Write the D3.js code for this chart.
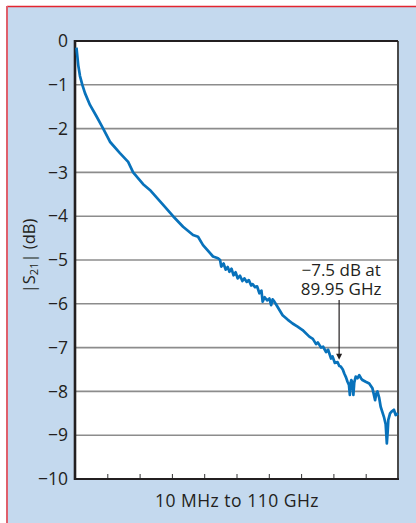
<!DOCTYPE html>
<html>
<head>
<meta charset="utf-8">
<script src="https://cdn.jsdelivr.net/npm/d3@7"></script>
<style>
  body { margin: 0; background: #fff; }
  text { font-family: "Open Sans", "Noto Sans", sans-serif; fill: #231f20; }
</style>
</head>
<body>
<div id="chart"></div>
<script>
// frequency (GHz) and |S21| (dB)
const freqGHz = [0.5, 0.8, 1.1, 1.7, 2.5, 3.4, 5.1, 7.4, 9.6, 11.9, 15.3, 18.1, 19.8, 23.2, 25.5,
  29.5, 33.4, 36.8, 40.2, 41.9, 43.6, 47.0, 48.7, 49.4, 49.8, 50.6, 51.3, 52.0, 52.6, 53.3, 54.0,
  54.7, 55.4, 56.2, 57.0, 57.7, 58.5, 59.2, 60.0, 60.5, 61.3, 62.0, 62.8, 63.5, 63.9, 64.6,
  65.4, 66.2, 66.8, 67.3, 67.9, 68.8, 70.7, 72.4, 74.1, 75.8, 77.5, 79.8, 81.0, 82.1, 82.7,
  83.8, 84.5, 85.5, 86.2, 87.2, 87.7, 88.5, 89.4, 90.0, 90.5, 91.2, 91.7, 92.3, 92.8, 93.3,
  93.6, 93.9, 94.1, 94.5, 94.8, 95.1, 95.6, 96.2, 96.8, 97.4, 97.9, 99.0, 100.2, 101.3,
  102.2, 102.6, 103.0, 103.6, 104.1, 105.2, 105.8, 106.2, 106.5, 106.7, 107.3, 107.8, 108.6,
  109.2, 110];
const s21dB = [-0.15, -0.35, -0.55, -0.8, -1.0, -1.19, -1.46, -1.73, -2.0, -2.3, -2.56, -2.76,
  -3.0, -3.27, -3.4, -3.7, -4.0, -4.24, -4.43, -4.47, -4.66, -4.92, -4.96, -5.0, -5.15, -5.08,
  -5.22, -5.16, -5.27, -5.2, -5.35, -5.28, -5.42, -5.36, -5.48, -5.42, -5.5, -5.46, -5.58,
  -5.55, -5.62, -5.6, -5.76, -5.7, -5.95, -5.85, -5.92, -5.88, -6.03, -5.9, -5.95, -6.05,
  -6.26, -6.36, -6.45, -6.52, -6.6, -6.75, -6.8, -6.92, -6.88, -7.0, -6.98, -7.1, -7.05,
  -7.25, -7.2, -7.35, -7.33, -7.42, -7.43, -7.5, -7.59, -7.68, -7.78, -7.85, -8.08, -7.8,
  -7.74, -7.8, -8.08, -7.8, -7.66, -7.7, -7.63, -7.7, -7.74, -7.78, -7.82, -7.93, -8.2,
  -8.05, -8.0, -8.15, -8.35, -8.58, -8.75, -9.19, -8.9, -8.65, -8.5, -8.46, -8.42, -8.54, -8.5];
const yTicks = [0, -1, -2, -3, -4, -5, -6, -7, -8, -9, -10];
const xTicks = [11, 22, 33, 44, 55, 66, 77, 88, 99];

const W = 416, H = 523;
const plot = { left: 75, top: 41, right: 398, bottom: 479 };

const svg = d3.select('#chart')
  .append('svg')
  .attr('width', W)
  .attr('height', H);

// panel background and red frame lines
svg.append('rect')
  .attr('x', 7).attr('y', 6)
  .attr('width', W - 7).attr('height', H - 6)
  .style('fill', '#c4d9ee');
svg.append('line')
  .attr('x1', 7).attr('x2', W).attr('y1', 6.5).attr('y2', 6.5)
  .style('stroke', '#e3242f').style('stroke-width', 1.5);
svg.append('line')
  .attr('x1', 7).attr('x2', 7).attr('y1', 6).attr('y2', H)
  .style('stroke', '#df5f6b').style('stroke-width', 2);

const x = d3.scaleLinear()
  .domain([0, 110])
  .range([plot.left, plot.right]);

const y = d3.scaleLinear()
  .domain([-10, 0])
  .range([plot.bottom, plot.top]);

// plot area
svg.append('rect')
  .attr('x', plot.left).attr('y', plot.top)
  .attr('width', plot.right - plot.left).attr('height', plot.bottom - plot.top)
  .style('fill', '#fff');

// gridlines
svg.append('g')
  .selectAll('line')
  .data(yTicks.filter(d => d !== 0 && d !== -10))
  .enter()
  .append('line')
  .attr('x1', plot.left).attr('x2', plot.right)
  .attr('y1', d => y(d)).attr('y2', d => y(d))
  .style('stroke', '#8c8c8c')
  .style('stroke-width', 1.6);

// x ticks (inside, upward)
svg.append('g')
  .attr('transform', `translate(0, ${plot.bottom})`)
  .call(d3.axisBottom(x).tickValues(xTicks).tickSize(-5).tickFormat(''))
  .call(g => g.select('.domain').remove())
  .selectAll('.tick line')
  .style('stroke', '#333')
  .style('stroke-width', 1);

// y axis labels
svg.append('g')
  .attr('transform', `translate(${plot.left}, 0)`)
  .call(d3.axisLeft(y).tickValues(yTicks).tickSize(0).tickPadding(7)
    .tickFormat(d => d === 0 ? '0' : '\u2212' + Math.abs(d)))
  .call(g => g.select('.domain').remove())
  .selectAll('.tick text')
  .style('font-size', '17.5px')
  .style('fill', '#231f20')
  .style('font-family', '"Open Sans", sans-serif');

// frame
svg.append('line')
  .attr('x1', plot.right).attr('x2', plot.right)
  .attr('y1', plot.top).attr('y2', plot.bottom)
  .style('stroke', '#4a4a4a').style('stroke-width', 2);
svg.append('line')
  .attr('x1', plot.left).attr('x2', plot.right)
  .attr('y1', plot.top).attr('y2', plot.top)
  .style('stroke', '#231f20').style('stroke-width', 2);
svg.append('line')
  .attr('x1', plot.left).attr('x2', plot.right + 1)
  .attr('y1', plot.bottom).attr('y2', plot.bottom)
  .style('stroke', '#231f20').style('stroke-width', 2.2);
svg.append('line')
  .attr('x1', plot.left).attr('x2', plot.left)
  .attr('y1', plot.top - 1).attr('y2', plot.bottom + 1)
  .style('stroke', '#231f20').style('stroke-width', 2.6);

// trace
const pts = freqGHz.map((f, i) => [f, s21dB[i]]);
svg.append('path')
  .datum(pts)
  .attr('d', d3.line().x(d => x(d[0])).y(d => y(d[1])))
  .style('fill', 'none')
  .style('stroke', '#0872bb')
  .style('stroke-width', 2.7)
  .style('stroke-linejoin', 'round');

// annotation
const annX = x(89.95) + 2;
const ann = svg.append('text')
  .attr('text-anchor', 'middle')
  .style('font-size', '17px');
ann.append('tspan').attr('x', annX).attr('y', 276).text('\u22127.5 dB at');
ann.append('tspan').attr('x', annX).attr('y', 294.5).text('89.95 GHz');

svg.append('line')
  .attr('x1', x(89.95)).attr('x2', x(89.95))
  .attr('y1', 300).attr('y2', y(-7.3) - 5)
  .style('stroke', '#231f20').style('stroke-width', 1.2);
svg.append('path')
  .attr('d', `M${x(89.95) - 3},${y(-7.3) - 7} L${x(89.95) + 3},${y(-7.3) - 7} L${x(89.95)},${y(-7.3) - 1} Z`)
  .style('fill', '#231f20');

// axis titles
svg.append('text')
  .attr('x', 237)
  .attr('y', 507)
  .attr('text-anchor', 'middle')
  .style('font-size', '17.5px')
  .style('letter-spacing', '0.5px')
  .text('10 MHz to 110 GHz');

const yl = svg.append('text')
  .attr('transform', `translate(35, 256) rotate(-90)`)
  .attr('text-anchor', 'middle')
  .style('font-size', '16.5px');
yl.append('tspan').text('|S');
yl.append('tspan').attr('dy', 3).style('font-size', '11px').text('21');
yl.append('tspan').attr('dy', -3).text('| (dB)');
</script>
</body>
</html>
